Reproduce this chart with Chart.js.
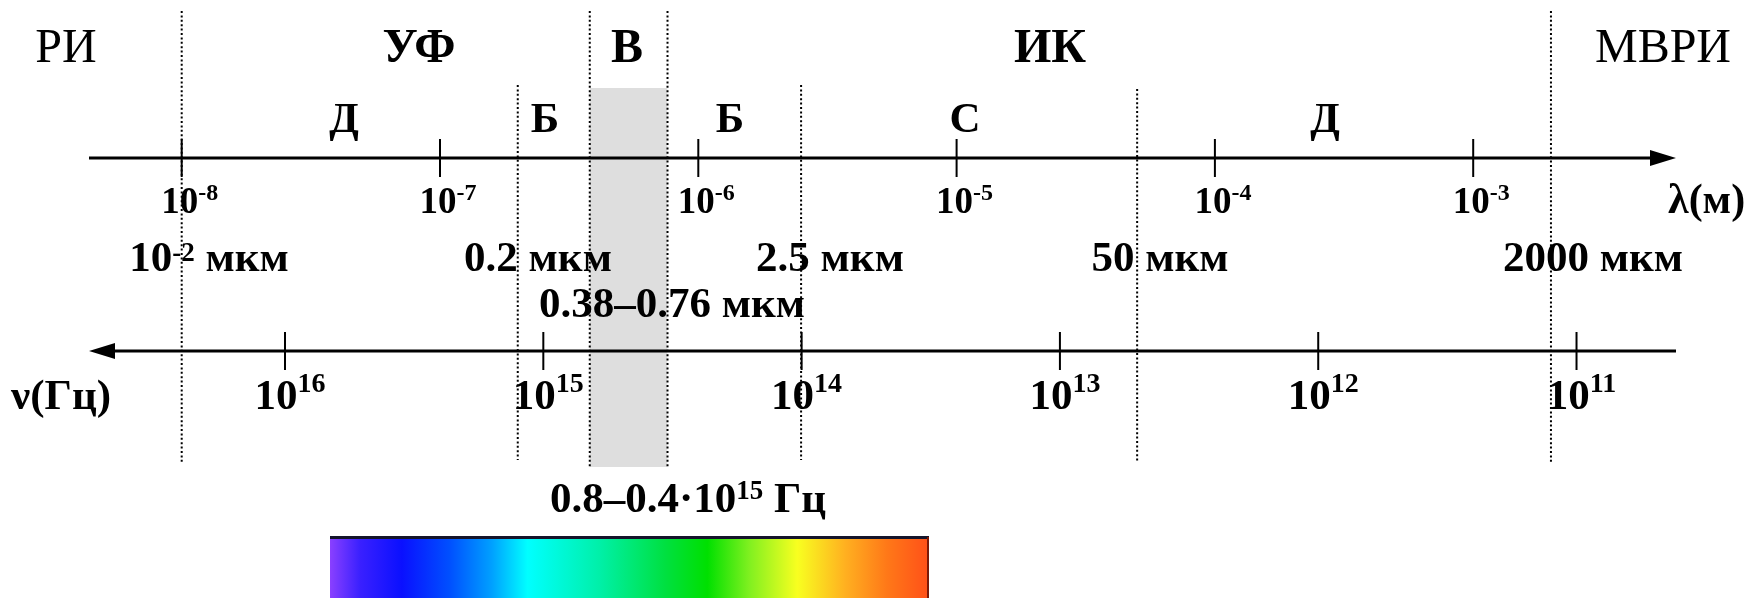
<!DOCTYPE html>
<html lang="ru">
<head>
<meta charset="utf-8">
<title>Шкала электромагнитных волн</title>
<script src="https://cdn.jsdelivr.net/npm/chart.js@4.4.1/dist/chart.umd.min.js"></script>
<style>
html, body { margin: 0; padding: 0; background: #fff; }
#wrap { width: 1748px; height: 598px; }
</style>
</head>
<body>
<div id="wrap"><canvas id="grafico"></canvas></div>
<script>
// границы диапазонов, мкм
var granitsy = [0.01, 0.2, 0.38, 0.76, 2.5, 50, 2000];
// подписи границ: число, степень, единица
var podpisiGranits = [['10', '-2', ' мкм'], ['0.2', '', ' мкм'], ['2.5', '', ' мкм'], ['50', '', ' мкм'], ['2000', '', ' мкм']];
// видимый диапазон, мкм
var vidimyi = [0.38, 0.76];
// деления шкалы длин волн: степени 10 (м)
var lambdaStepeni = [-8, -7, -6, -5, -4, -3];
// деления шкалы частот: степени 10 (Гц)
var nuStepeni = [16, 15, 14, 13, 12, 11];
var oblasti = ['РИ', 'УФ', 'В', 'ИК', 'МВРИ'];
var podoblasti = ['Д', 'Б', 'Б', 'С', 'Д'];

// сдвиг шкалы частот относительно шкалы длин волн (lg ν = K − lg λ), как на рисунке
var K = 8.4;

// раскладка (пиксели)
var W = 1748, PX0 = 181.7, DEC = 258.3;
var xMin = -8 - PX0 / DEC, xMax = xMin + W / DEC;
var Y_LAMBDA = 158, Y_NU = 351;
var verhPunktira = [11, 85, 11, 11, 85, 89, 11];
var nizPunktira = [463, 460, 467, 467, 460, 463, 463];
var xOblastei = [66, 419, 627, 1050, 1663];
var zhirnyeOblasti = [false, true, true, true, false];
var xPodoblastei = [344, 545, 730, 965, 1325];
var xPodpisei = [209, 538, 830, 1160, 1593];

var SHRIFT = '"Liberation Serif", "Times New Roman", serif';
function f(size, bold) { return (bold === false ? '' : 'bold ') + size + 'px ' + SHRIFT; }

function lg(mkm) { return Math.log10(mkm) - 6; }

var punktiry = granitsy.map(function (g, i) {
	return {
		type: 'line',
		data: [{ x: lg(g), y: verhPunktira[i] }, { x: lg(g), y: nizPunktira[i] }],
		borderColor: '#000',
		borderWidth: 2,
		borderDash: [2, 2.4],
		pointRadius: 0,
		fill: false,
		order: 1
	};
});

var datasets = [{
	type: 'line',
	data: [{ x: lg(vidimyi[0]), y: 88 }, { x: lg(vidimyi[1]), y: 88 }],
	borderWidth: 0,
	borderColor: 'rgba(0,0,0,0)',
	backgroundColor: '#dedede',
	fill: { value: 467 },
	pointRadius: 0,
	order: 5
}].concat(punktiry).concat([{
	type: 'scatter',
	data: lambdaStepeni.map(function (p) { return { x: p, y: Y_LAMBDA }; }),
	pointStyle: 'line',
	pointRadius: 19,
	rotation: 90,
	borderColor: '#000',
	borderWidth: 2,
	order: 0
}, {
	type: 'scatter',
	xAxisID: 'xf',
	data: nuStepeni.map(function (p) { return { x: p, y: Y_NU }; }),
	pointStyle: 'line',
	pointRadius: 19,
	rotation: 90,
	borderColor: '#000',
	borderWidth: 2,
	order: 0
}]);

function stroka(ctx, chasti, cx, y, left) {
	var w = 0;
	chasti.forEach(function (c) { ctx.font = c.f; c.w = ctx.measureText(c.t).width; w += c.w; });
	var x = left ? cx : cx - w / 2;
	chasti.forEach(function (c) { ctx.font = c.f; ctx.fillText(c.t, x, y - (c.dy || 0)); x += c.w; });
}

function strelka(ctx, x, y, dir) {
	ctx.beginPath();
	ctx.moveTo(x, y);
	ctx.lineTo(x - dir * 26, y - 8);
	ctx.lineTo(x - dir * 26, y + 8);
	ctx.closePath();
	ctx.fill();
}

var risovanie = {
	id: 'risovanie',
	afterDatasetDraw: function (chart, args) {
		if (args.index !== 0) return;
		var ctx = chart.ctx;
		ctx.save();
		ctx.fillStyle = '#000';
		ctx.strokeStyle = '#000';
		ctx.lineWidth = 3;
		ctx.beginPath();
		ctx.moveTo(89, Y_LAMBDA); ctx.lineTo(1655, Y_LAMBDA);
		ctx.moveTo(110, Y_NU); ctx.lineTo(1676, Y_NU);
		ctx.stroke();
		strelka(ctx, 1676, Y_LAMBDA, 1);
		strelka(ctx, 89, Y_NU, -1);
		ctx.restore();
	},
	afterDatasetsDraw: function (chart) {
		var ctx = chart.ctx;
		var x = chart.scales.x, xf = chart.scales.xf;
		ctx.save();
		ctx.fillStyle = '#000';
		ctx.textAlign = 'left';
		ctx.textBaseline = 'alphabetic';

		oblasti.forEach(function (t, i) {
			stroka(ctx, [{ t: t, f: f(48, zhirnyeOblasti[i]) }], xOblastei[i], 62);
		});
		podoblasti.forEach(function (t, i) {
			stroka(ctx, [{ t: t, f: f(43) }], xPodoblastei[i], 132);
		});

		lambdaStepeni.forEach(function (p) {
			stroka(ctx, [{ t: '10', f: f(37) }, { t: String(p), f: f(24), dy: 13 }], x.getPixelForValue(p) + 8, 213);
		});
		nuStepeni.forEach(function (p) {
			stroka(ctx, [{ t: '10', f: f(43) }, { t: String(p), f: f(28), dy: 17 }], xf.getPixelForValue(p) + 5, 409);
		});

		podpisiGranits.forEach(function (c, i) {
			var chasti = [{ t: c[0], f: f(43) }];
			if (c[1]) chasti.push({ t: c[1], f: f(27), dy: 10 });
			chasti.push({ t: c[2], f: f(43) });
			stroka(ctx, chasti, xPodpisei[i], 271);
		});
		stroka(ctx, [{ t: vidimyi[0] + '–' + vidimyi[1] + ' мкм', f: f(43) }], 672, 317);

		stroka(ctx, [{ t: 'λ(м)', f: f(42) }], 1668, 213, true);
		stroka(ctx, [{ t: 'ν(Гц)', f: f(43) }], 11, 409, true);
		stroka(ctx, [{ t: '0.8–0.4·10', f: f(43) }, { t: '15', f: f(27), dy: 13 }, { t: ' Гц', f: f(43) }], 688, 512);

		// спектр видимого света
		var g = ctx.createLinearGradient(330, 0, 929, 0);
		[[0, '#8a40ff'], [0.05, '#3a20ff'], [0.12, '#0a10ff'], [0.2, '#0050ff'], [0.27, '#00a0ff'],
		 [0.33, '#00ffff'], [0.45, '#00f0a8'], [0.56, '#00e040'], [0.63, '#00e000'], [0.7, '#80f020'],
		 [0.78, '#f8ff20'], [0.86, '#ffb020'], [0.93, '#ff7818'], [1, '#ff5018']].forEach(function (s) {
			g.addColorStop(s[0], s[1]);
		});
		ctx.fillStyle = g;
		ctx.fillRect(330, 537, 599, 61);
		ctx.fillStyle = '#14142a';
		ctx.fillRect(330, 536, 599, 3);
		ctx.fillStyle = '#7a1a08';
		ctx.fillRect(927, 537, 2, 61);
		ctx.restore();
	}
};

var grafico = new Chart(document.getElementById('grafico'), {
	data: { datasets: datasets },
	options: {
		responsive: true,
		maintainAspectRatio: false,
		animation: false,
		events: [],
		layout: { padding: 0, autoPadding: false },
		plugins: { legend: { display: false }, tooltip: { enabled: false } },
		scales: {
			x: { type: 'linear', min: xMin, max: xMax, display: false },
			xf: { type: 'linear', axis: 'x', reverse: true, min: K - xMax, max: K - xMin, display: false },
			y: { type: 'linear', min: 0, max: 598, reverse: true, display: false }
		}
	},
	plugins: [risovanie]
});
</script>
</body>
</html>
